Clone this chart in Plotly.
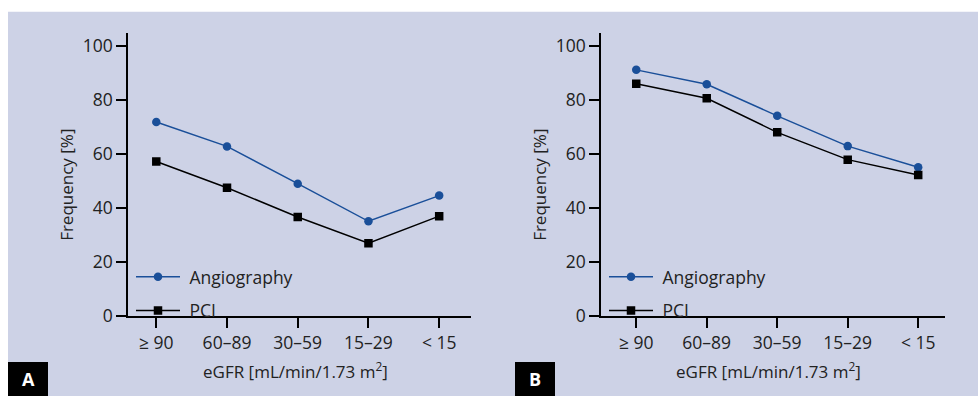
import plotly.graph_objects as go

categories = ["≥ 90", "60–89", "30–59", "15–29", "< 15"]
angio_a = [71.8, 62.8, 49.0, 35.1, 44.6]
pci_a = [57.2, 47.5, 36.7, 27.0, 37.0]
angio_b = [91.1, 85.8, 74.1, 62.9, 55.1]
pci_b = [86.0, 80.6, 68.0, 57.9, 52.2]
y_ticks = [0, 20, 40, 60, 80, 100]
series_names = ["Angiography", "PCI"]
panel_labels = ["A", "B"]

W, H = 978, 407
FONT = "Open Sans"
BLUE = "#1a4f99"
LAV = "#cdd2e6"
TXT = "#222222"
NB = "\u00a0"

def px(x):
    return x / W

def py(y):
    return 1 - y / H

fig = go.Figure()

for i, (ang, pci) in enumerate([(angio_a, pci_a), (angio_b, pci_b)]):
    xa = "x" if i == 0 else "x2"
    ya = "y" if i == 0 else "y2"
    lg = "legend" if i == 0 else "legend2"
    fig.add_trace(go.Scatter(x=categories, y=ang, mode="lines+markers", name=NB + series_names[0],
                             line=dict(color=BLUE, width=1.5),
                             marker=dict(symbol="circle", size=8.5, color=BLUE),
                             xaxis=xa, yaxis=ya, legend=lg, legendgroup=f"a{i}"))
    fig.add_trace(go.Scatter(x=categories, y=pci, mode="lines+markers", name=NB + series_names[1],
                             line=dict(color="black", width=1.5),
                             marker=dict(symbol="square", size=8.5, color="black"),
                             xaxis=xa, yaxis=ya, legend=lg, legendgroup=f"p{i}"))

ydom = [py(325), py(34)]
axis_common = dict(showline=True, linecolor="black", linewidth=1.5, ticks="outside",
                   ticklen=10, tickcolor="black", tickwidth=1.5, showgrid=False, zeroline=False,
                   tickfont=dict(family=FONT, size=17.5, color=TXT))

leg_common = dict(xanchor="left", yanchor="top", bgcolor="rgba(0,0,0,0)",
                  font=dict(family=FONT, size=17.5, color=TXT), tracegroupgap=8, itemwidth=44)

fig.update_layout(
    width=W, height=H, autosize=False, margin=dict(l=0, r=0, t=0, b=0, pad=0),
    paper_bgcolor="white", plot_bgcolor="white",
    font=dict(family=FONT, color=TXT),
    xaxis=dict(domain=[px(128), px(471)], range=[-0.4, 4.45], anchor="y", **axis_common),
    yaxis=dict(domain=ydom, range=[0, 104.7], tickvals=y_ticks, anchor="x", **axis_common),
    xaxis2=dict(domain=[px(601), px(945)], range=[-0.5, 4.38], anchor="y2", **axis_common),
    yaxis2=dict(domain=ydom, range=[0, 104.7], tickvals=y_ticks, anchor="x2", **axis_common),
    legend=dict(x=px(131), y=py(266), **leg_common),
    legend2=dict(x=px(604), y=py(266), **leg_common),
)

# lavender background panel
fig.add_shape(type="rect", xref="paper", yref="paper", x0=px(8), x1=1, y0=0, y1=py(12),
              fillcolor=LAV, line=dict(width=0), layer="below")

for i, lab in enumerate(panel_labels):
    x0 = 8 if i == 0 else 515
    fig.add_shape(type="rect", xref="paper", yref="paper", x0=px(x0), x1=px(x0 + 40),
                  y0=0, y1=py(372), fillcolor="black", line=dict(width=0))
    fig.add_annotation(x=px(x0 + 20), y=py(390), xref="paper", yref="paper", text=f"<b>{lab}</b>",
                       showarrow=False, font=dict(family=FONT, size=18, color="white"),
                       xanchor="center", yanchor="middle")
    cx = 295 if i == 0 else 768
    fig.add_annotation(x=px(cx), y=py(381), xref="paper", yref="paper",
                       text="eGFR [mL/min/1.73 m<sup>2</sup>]", showarrow=False,
                       font=dict(family=FONT, size=17, color=TXT), xanchor="center", yanchor="middle")
    yx = 67 if i == 0 else 540
    fig.add_annotation(x=px(yx), y=py(190), xref="paper", yref="paper", text="Frequency [%]",
                       showarrow=False, textangle=-90,
                       font=dict(family=FONT, size=17, color=TXT), xanchor="center", yanchor="middle")

fig.write_html("out.html", config={"responsive": False})
